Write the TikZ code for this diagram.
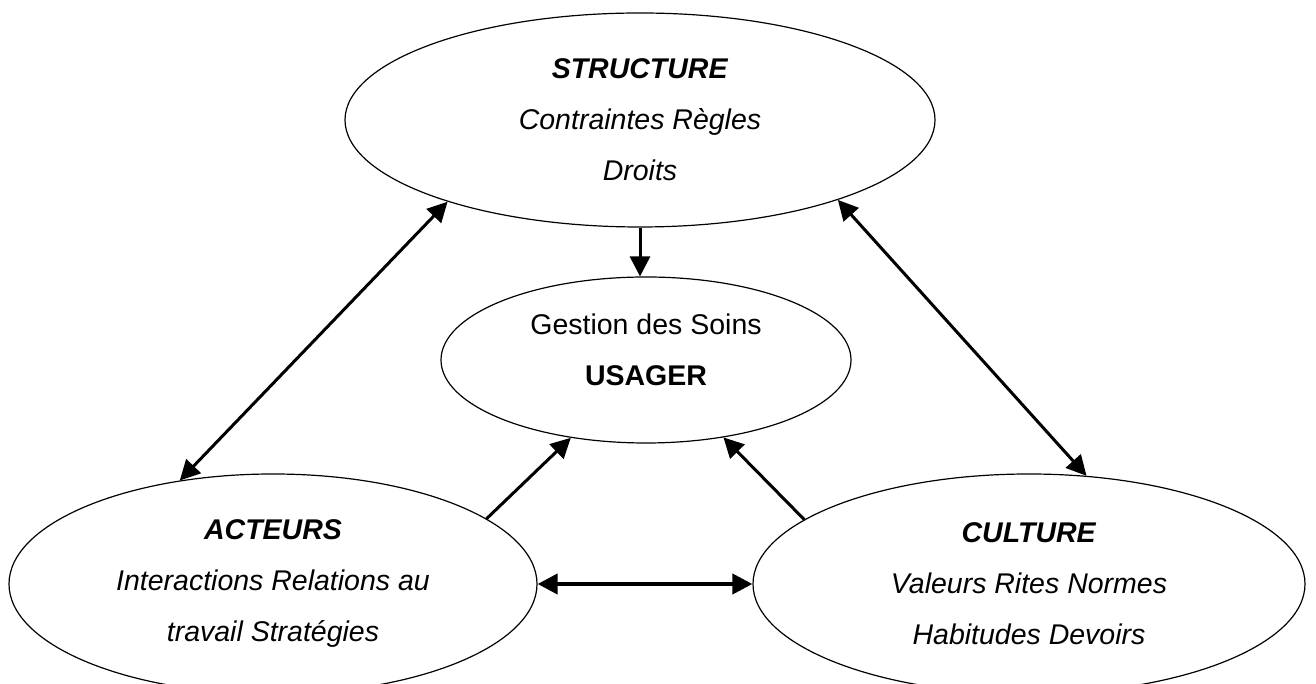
\documentclass[tikz,border=0pt]{standalone}
\usepackage{fontspec}
\setmainfont{Liberation Sans}
\usetikzlibrary{arrows.meta,shapes.geometric}

\begin{document}
\begin{tikzpicture}[x=1pt, y=1pt,
  every node/.style={ellipse, draw, line width=1.2pt, inner sep=0pt, align=center, font=\fontsize{28.5}{51}\selectfont},
  link/.style={line width=3pt, -{Triangle[length=20pt, width=20pt]}},
  twoway/.style={line width=3pt, {Triangle[length=20pt, width=20pt]}-{Triangle[length=20pt, width=20pt]}}]
\useasboundingbox (0,0) rectangle (1316,684);

\coordinate (S) at (640,564);
\coordinate (U) at (646,324);
\coordinate (A) at (273,100);
\coordinate (C) at (1029,100);

\node[minimum width=590pt, minimum height=214pt] (struct) at (S)
  {\textbf{\textit{STRUCTURE}}\\ \textit{Contraintes Règles}\\ \textit{Droits}};
\node[minimum width=410pt, minimum height=166pt, text depth=21pt] (usager) at (U)
  {Gestion des Soins\\ \textbf{USAGER}};
\node[minimum width=528pt, minimum height=220pt] (acteurs) at (A)
  {\textbf{\textit{ACTEURS}}\\ \textit{Interactions Relations au}\\ \textit{travail Stratégies}};
\node[minimum width=552pt, minimum height=220pt] (culture) at (C)
  {\textbf{\textit{CULTURE}}\\ \textit{Valeurs Rites Normes}\\ \textit{Habitudes Devoirs}};

\path[link] (struct.south) edge (struct.south |- usager.north);

\path[twoway] (acteurs.132) edge (struct.203);
\path[twoway] (struct.338) edge (culture.62);

\path[link] (acteurs.17) edge (usager.226);
\path[link] (culture.164) edge (usager.315);

\path[twoway, line width=4pt] (acteurs.east) edge (culture.west);

\end{tikzpicture}
\end{document}
